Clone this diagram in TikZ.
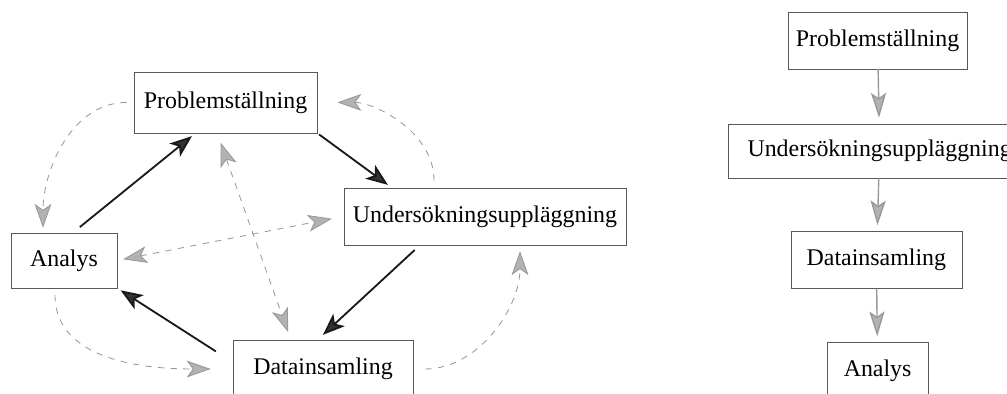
\documentclass[tikz,border=0pt]{standalone}
\usepackage{fontspec}
\setmainfont{Liberation Serif}
\usetikzlibrary{arrows.meta}

\tikzset{
	box/.style={draw=black!65, rectangle, inner sep=0pt, minimum height=1.42cm, font=\fontsize{17}{20}\selectfont},
	maintip/.tip={Stealth[length=0.55cm, width=0.42cm, inset=0.14cm, fill=black!80]},
	sidetip/.tip={Stealth[length=0.6cm, width=0.42cm, inset=0.15cm, fill=gray!60]},
	flowtip/.tip={Stealth[length=0.62cm, width=0.38cm, inset=0.13cm, fill=gray!60]},
	mainarr/.style={line width=1.3pt, draw=black!90, -maintip},
	sidearr/.style={draw=gray!80, line width=0.6pt, dash pattern=on 4.5pt off 4.5pt, -sidetip},
	flowarr/.style={draw=gray!80, line width=1pt, -flowtip}
}

\begin{document}
\begin{tikzpicture}
	\useasboundingbox (0,0) rectangle (25.175,-9.85);

	% cycle
	\node[box, minimum width=4.575cm, minimum height=1.525cm] (P1) at (5.64,-2.56) {Problemställning};
	\node[box, minimum width=7.05cm] (U1) at (12.125,-5.41) {Undersökningsuppläggning};
	\node[box, minimum width=4.5cm] (D1) at (8.075,-9.225) {Datainsamling};
	\node[box, minimum width=2.65cm, minimum height=1.375cm] (A1) at (1.6,-6.51) {Analys};

	% chain
	\node[box, minimum width=4.475cm] (P2) at (21.94,-1.01) {Problemställning};
	\node[box, minimum width=7.575cm, minimum height=1.35cm] (U2) at (21.99,-3.775) {Undersökningsuppläggning};
	\node[box, minimum width=4.275cm] (D2) at (21.91,-6.5) {Datainsamling};
	\node[box, minimum width=2.525cm] (A2) at (21.94,-9.275) {Analys};

	\draw [mainarr, shorten <=0.22cm, shorten >=0.12cm] ([xshift=0.225cm]A1.north) -- ([xshift=-0.75cm]P1.south);
	\draw [mainarr, shorten <=0.05cm, shorten >=0.12cm] (P1.south east) -- ([xshift=-2.33cm]U1.north);
	\draw [mainarr, shorten <=0.18cm, shorten >=0.2cm] ([xshift=-1.625cm]U1.south) -- ([xshift=-0.15cm]D1.north);
	\draw [mainarr, shorten <=0.5cm, shorten >=0.1cm] ([yshift=0.17cm]D1.west) -- (A1.south east);

	\draw [sidearr, shorten <=0.18cm, shorten >=0.12cm] (P1.west) to[out=180, in=90] ([xshift=-0.525cm]A1.north);
	\draw [sidearr, shorten <=0.17cm, shorten >=0.55cm] ([xshift=-0.225cm]A1.south) to[out=-90, in=180] (D1.west);
	\draw [sidearr, shorten <=0.3cm, shorten >=0.15cm] (D1.east) to[out=0, in=-90] ([xshift=0.875cm]U1.south);
	\draw [sidearr, shorten <=0.18cm, shorten >=0.5cm] ([xshift=-1.275cm]U1.north) to[out=90, in=0] (P1.east);
	\draw [sidearr, sidetip-sidetip, shorten <=0.15cm, shorten >=0.3cm] (A1.east) -- (U1.west);
	\draw [sidearr, sidetip-sidetip, shorten <=0.25cm, shorten >=0.22cm] ([xshift=-0.21cm]P1.south) -- ([xshift=-0.8cm]D1.north);

	\draw [flowarr, shorten >=0.15cm] (P2) -- (U2);
	\draw [flowarr, shorten >=0.15cm] (U2) -- (D2);
	\draw [flowarr, shorten >=0.15cm] (D2) -- (A2);
\end{tikzpicture}
\end{document}
